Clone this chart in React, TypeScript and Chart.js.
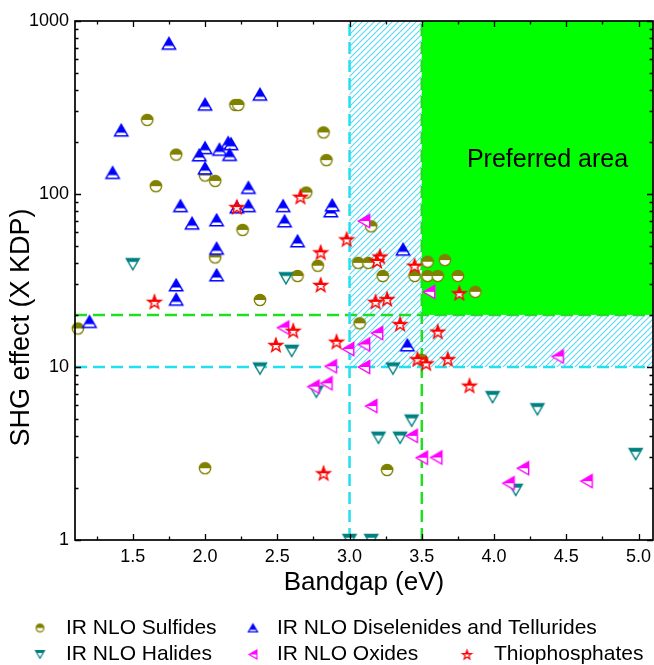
import React, { useEffect, useRef } from 'react';
import { Chart, registerables } from 'chart.js';

Chart.register(...registerables);

const FONT = '"Liberation Sans", Arial, Helvetica, sans-serif';

// ---- data (bandgap in eV, SHG effect in x KDP) ----
const sulfidesX = [1.12, 1.6, 1.66, 1.8, 2.0, 2.07, 2.21, 2.23, 2.26, 2.07, 2.82, 2.84, 2.7, 2.78, 2.64, 2.38, 2.0, 3.06, 3.13, 3.15, 3.23, 3.45, 3.54, 3.54, 3.61, 3.66, 3.75, 3.87, 3.07, 3.5, 3.26];
const sulfidesY = [16.7, 268, 111, 169, 128, 119, 327, 327, 62, 43, 227, 157, 102, 38.5, 33.6, 24.4, 2.6, 40, 40, 65, 33.6, 33.6, 40.6, 33.6, 33.6, 41.5, 33.6, 27.2, 17.9, 11.0, 2.54];

const selenidesX = [1.75, 1.42, 1.36, 2.0, 2.38, 2.0, 1.96, 2.1, 2.16, 2.18, 2.17, 2.0, 2.3, 1.83, 2.3, 2.22, 1.91, 2.08, 2.54, 2.55, 2.64, 2.08, 2.87, 2.88, 2.08, 1.8, 1.8, 1.2, 3.37, 3.4];
const selenidesY = [743, 234, 133, 330, 377, 185, 168, 181, 198, 195, 169, 141, 109, 85.5, 85.5, 84, 67.8, 70.8, 85.5, 69.8, 53.5, 48.5, 79.8, 86.3, 34, 29.8, 24.6, 18.3, 47.9, 13.4];

const halidesX = [1.5, 2.56, 2.38, 2.6, 2.77, 3.3, 3.2, 3.35, 3.43, 3.99, 4.3, 4.98, 4.15, 3.0, 3.15];
const halidesY = [39.3, 32.6, 9.8, 12.4, 7.2, 9.8, 3.9, 3.9, 4.9, 6.7, 5.7, 3.14, 1.95, 1, 1];

const oxidesX = [3.1, 3.55, 2.54, 3.19, 3.1, 2.99, 3.1, 2.87, 2.75, 2.84, 3.15, 3.43, 3.5, 3.6, 4.2, 4.1, 4.64, 4.44];
const oxidesY = [69.8, 27.2, 16.9, 15.7, 13.5, 12.7, 10.0, 10.1, 7.7, 8.05, 5.95, 4.0, 2.99, 3.0, 2.6, 2.13, 2.19, 11.5];

const thioX = [2.22, 2.66, 2.8, 1.65, 2.8, 2.61, 2.49, 2.82, 2.98, 3.21, 3.19, 3.45, 3.18, 3.26, 3.76, 3.35, 2.91, 3.61, 3.47, 3.53, 3.68, 3.83];
const thioY = [84, 96.4, 46, 23.8, 29.8, 16.2, 13.4, 2.43, 54.7, 43.5, 41, 38.5, 23.8, 24.7, 26.7, 17.7, 14.0, 16.0, 11.1, 10.5, 11.1, 7.8];

const seriesLabels = [
  'IR NLO Sulfides',
  'IR NLO Diselenides and Tellurides',
  'IR NLO Halides',
  'IR NLO Oxides',
  'Thiophosphates',
];

const xTicks = [1.5, 2.0, 2.5, 3.0, 3.5, 4.0, 4.5, 5.0];
const xMinorTicks = [1.25, 1.75, 2.25, 2.75, 3.25, 3.75, 4.25, 4.75];
const yTicks = [1, 10, 100, 1000];

const X_MIN = 1.1;
const X_MAX = 5.1;
const Y_MIN = 1;
const Y_MAX = 1000;
const GAP_LIMIT = 3.0;
const GAP_PREF = 3.5;
const SHG_LIMIT = 10;
const SHG_PREF = 20;
const PREF_LABEL_X = 4.37;
const PREF_LABEL_Y = 158;

const zip = (xs: number[], ys: number[]) => xs.map((x, i) => ({ x, y: ys[i] }));

function makeMarker(shape: string, color: string, k: number, lw: number): HTMLCanvasElement {
  const size = Math.ceil(16 * k) + 3;
  const c = document.createElement('canvas');
  c.width = size;
  c.height = size;
  const ctx = c.getContext('2d')!;
  const cx = size / 2;
  const cy = size / 2;
  const p = new Path2D();
  let split = cy;
  if (shape === 'circle') {
    p.arc(cx, cy, 5.4 * k, 0, Math.PI * 2);
  } else if (shape === 'up') {
    const w = 12.8 * k, h = 11 * k;
    p.moveTo(cx, cy - h / 2);
    p.lineTo(cx + w / 2, cy + h / 2);
    p.lineTo(cx - w / 2, cy + h / 2);
    p.closePath();
    split = cy + 0.207 * h;
  } else if (shape === 'down') {
    const w = 12.4 * k, h = 10.5 * k;
    p.moveTo(cx - w / 2, cy - h / 2);
    p.lineTo(cx + w / 2, cy - h / 2);
    p.lineTo(cx, cy + h / 2);
    p.closePath();
    split = cy - 0.207 * h;
  } else if (shape === 'left') {
    const w = 10.8 * k, h = 12.4 * k;
    p.moveTo(cx - w / 2, cy);
    p.lineTo(cx + w / 2, cy - h / 2);
    p.lineTo(cx + w / 2, cy + h / 2);
    p.closePath();
  } else {
    const R = 6.8 * k, r = 2.8 * k;
    for (let i = 0; i < 10; i++) {
      const a = -Math.PI / 2 + (i * Math.PI) / 5;
      const rr = i % 2 === 0 ? R : r;
      const px = cx + rr * Math.cos(a);
      const py = cy + 0.5 + rr * Math.sin(a);
      if (i === 0) p.moveTo(px, py);
      else p.lineTo(px, py);
    }
    p.closePath();
  }
  ctx.fillStyle = '#ffffff';
  ctx.fill(p);
  ctx.save();
  ctx.beginPath();
  ctx.rect(0, 0, size, split);
  ctx.clip();
  ctx.fillStyle = color;
  ctx.fill(p);
  ctx.restore();
  ctx.lineWidth = lw;
  ctx.strokeStyle = color;
  ctx.lineJoin = 'miter';
  ctx.stroke(p);
  return c;
}

const SHAPES = ['circle', 'up', 'down', 'left', 'star'];
const COLORS = ['#808000', '#0000FF', '#008080', '#FF00FF', '#FF0000'];

export default function App() {
  const ref = useRef<HTMLCanvasElement>(null);

  useEffect(() => {
    const canvas = ref.current;
    if (!canvas) return;

    const markers = SHAPES.map((s, i) => makeMarker(s, COLORS[i], 1.05, 1.4));
    const legendMarkers = SHAPES.map((s, i) => makeMarker(s, COLORS[i], 0.72, 1.2));

    const hatchTile = document.createElement('canvas');
    hatchTile.width = 6;
    hatchTile.height = 6;
    const hg = hatchTile.getContext('2d')!;
    hg.strokeStyle = '#5AD8F5';
    hg.lineWidth = 1.15;
    hg.beginPath();
    hg.moveTo(-1, 7); hg.lineTo(7, -1);
    hg.moveTo(-4, 4); hg.lineTo(4, -4);
    hg.moveTo(2, 10); hg.lineTo(10, 2);
    hg.stroke();

    const regions = {
      id: 'regions',
      beforeDatasetsDraw(chart: any) {
        const { ctx, chartArea, scales } = chart;
        const x = scales.x, y = scales.y;
        const px = (v: number) => x.getPixelForValue(v);
        const py = (v: number) => y.getPixelForValue(v);
        ctx.save();
        ctx.beginPath();
        ctx.rect(chartArea.left, chartArea.top, chartArea.right - chartArea.left, chartArea.bottom - chartArea.top);
        ctx.clip();
        ctx.fillStyle = '#00FF00';
        ctx.fillRect(px(GAP_PREF), py(Y_MAX), px(X_MAX) - px(GAP_PREF), py(SHG_PREF) - py(Y_MAX));
        const pat = ctx.createPattern(hatchTile, 'repeat');
        ctx.fillStyle = pat;
        ctx.fillRect(px(GAP_LIMIT), py(Y_MAX), px(GAP_PREF) - px(GAP_LIMIT), py(SHG_LIMIT) - py(Y_MAX));
        ctx.fillRect(px(GAP_PREF), py(SHG_PREF), px(X_MAX) - px(GAP_PREF), py(SHG_LIMIT) - py(SHG_PREF));

        ctx.setLineDash([12, 6]);
        ctx.lineWidth = 2.5;
        ctx.strokeStyle = '#1EE01E';
        ctx.beginPath();
        ctx.moveTo(px(X_MIN), py(SHG_PREF));
        ctx.lineTo(px(X_MAX), py(SHG_PREF));
        ctx.moveTo(px(GAP_PREF), py(Y_MIN));
        ctx.lineTo(px(GAP_PREF), py(Y_MAX));
        ctx.stroke();
        ctx.strokeStyle = '#22E0F0';
        ctx.beginPath();
        ctx.moveTo(px(X_MIN), py(SHG_LIMIT));
        ctx.lineTo(px(X_MAX), py(SHG_LIMIT));
        ctx.moveTo(px(GAP_LIMIT), py(Y_MIN));
        ctx.lineTo(px(GAP_LIMIT), py(Y_MAX));
        ctx.stroke();
        ctx.setLineDash([]);

        ctx.fillStyle = '#000';
        ctx.font = `25px ${FONT}`;
        ctx.textAlign = 'center';
        ctx.textBaseline = 'middle';
        ctx.fillText('Preferred area', px(PREF_LABEL_X), py(PREF_LABEL_Y));
        ctx.restore();
      },
    };

    const frame = {
      id: 'frame',
      afterDatasetsDraw(chart: any) {
        const { ctx, chartArea, scales } = chart;
        const { left, right, top, bottom } = chartArea;
        const x = scales.x, y = scales.y;
        ctx.save();
        ctx.strokeStyle = '#000';
        ctx.lineWidth = 1.3;
        ctx.beginPath();
        const major = 6, minor = 3.5;
        const xt = (v: number, len: number) => {
          const p = Math.round(x.getPixelForValue(v)) + 0.5;
          ctx.moveTo(p, bottom); ctx.lineTo(p, bottom - len);
          ctx.moveTo(p, top); ctx.lineTo(p, top + len);
        };
        const yt = (v: number, len: number) => {
          const p = Math.round(y.getPixelForValue(v)) + 0.5;
          ctx.moveTo(left, p); ctx.lineTo(left + len, p);
          ctx.moveTo(right, p); ctx.lineTo(right - len, p);
        };
        xTicks.forEach((v) => xt(v, major));
        xMinorTicks.forEach((v) => xt(v, minor));
        yTicks.forEach((v) => yt(v, major));
        [1, 10, 100].forEach((d) => {
          for (let m = 2; m <= 9; m++) yt(d * m, minor);
        });
        ctx.stroke();
        ctx.lineWidth = 1.7;
        ctx.strokeRect(left, top, right - left, bottom - top);
        ctx.restore();
      },
      afterDraw(chart: any) {
        const { ctx } = chart;
        ctx.save();
        ctx.fillStyle = '#000';
        ctx.font = `27px ${FONT}`;
        ctx.textAlign = 'center';
        ctx.textBaseline = 'middle';
        ctx.translate(21.5, 327.5);
        ctx.rotate(-Math.PI / 2);
        ctx.fillText('SHG effect (X KDP)', 0, 0);
        ctx.restore();

        // legend
        const items = [
          { i: 0, mx: 40, tx: 66, y: 628 },
          { i: 1, mx: 253, tx: 277, y: 628 },
          { i: 2, mx: 40, tx: 66, y: 654.5 },
          { i: 3, mx: 253, tx: 277, y: 654.5 },
          { i: 4, mx: 467, tx: 494, y: 654.5 },
        ];
        ctx.save();
        ctx.font = `21px ${FONT}`;
        ctx.fillStyle = '#000';
        ctx.textAlign = 'left';
        ctx.textBaseline = 'middle';
        items.forEach((it) => {
          const m = legendMarkers[it.i];
          ctx.drawImage(m, it.mx - m.width / 2, it.y - m.height / 2);
          ctx.fillText(seriesLabels[it.i], it.tx, it.y);
        });
        ctx.restore();
      },
    };

    const xs = [sulfidesX, selenidesX, halidesX, oxidesX, thioX];
    const ys = [sulfidesY, selenidesY, halidesY, oxidesY, thioY];
    const orders = [5, 4, 3, 2, 1];

    const chart = new Chart(canvas, {
      type: 'scatter',
      data: {
        datasets: seriesLabels.map((label, i) => ({
          label,
          data: zip(xs[i], ys[i]),
          pointStyle: markers[i] as any,
          pointRadius: 6,
          borderColor: COLORS[i],
          backgroundColor: COLORS[i],
          order: orders[i],
          clip: { left: 10, right: 10, top: 10, bottom: 0 } as any,
        })),
      },
      options: {
        responsive: false,
        maintainAspectRatio: false,
        animation: false,
        events: [],
        layout: { autoPadding: false, padding: { left: 0, right: 1, top: 21, bottom: 65 } },
        plugins: {
          legend: { display: false },
          tooltip: { enabled: false },
        },
        scales: {
          x: {
            type: 'linear',
            position: 'bottom',
            min: X_MIN,
            max: X_MAX,
            afterBuildTicks: (s: any) => {
              s.ticks = xTicks.map((v) => ({ value: v }));
            },
            afterFit: (s: any) => {
              s.height = 60;
              s.paddingLeft = 0;
              s.paddingRight = 0;
            },
            grid: { display: false, drawTicks: false },
            border: { display: false },
            ticks: {
              padding: 6,
              color: '#000',
              autoSkip: false,
              maxRotation: 0,
              font: { family: FONT, size: 18 },
              callback: (v: any) => Number(v).toFixed(1),
            },
            title: {
              display: true,
              text: 'Bandgap (eV)',
              color: '#000',
              font: { family: FONT, size: 26 },
              padding: { top: 0, bottom: 2 },
            },
          },
          y: {
            type: 'logarithmic',
            min: Y_MIN,
            max: Y_MAX,
            afterBuildTicks: (s: any) => {
              s.ticks = yTicks.map((v) => ({ value: v }));
            },
            afterFit: (s: any) => {
              s.width = 75;
              s.paddingTop = 0;
              s.paddingBottom = 0;
            },
            grid: { display: false, drawTicks: false },
            border: { display: false },
            ticks: {
              padding: 6,
              color: '#000',
              autoSkip: false,
              font: { family: FONT, size: 18 },
              callback: (v: any) => String(v),
            },
          },
        },
      },
      plugins: [regions, frame],
    });

    return () => chart.destroy();
  }, []);

  return (
    <div style={{ position: 'absolute', left: 0, top: 0, width: 654, height: 665, background: '#fff' }}>
      <canvas ref={ref} width={654} height={665} style={{ display: 'block' }} />
    </div>
  );
}
